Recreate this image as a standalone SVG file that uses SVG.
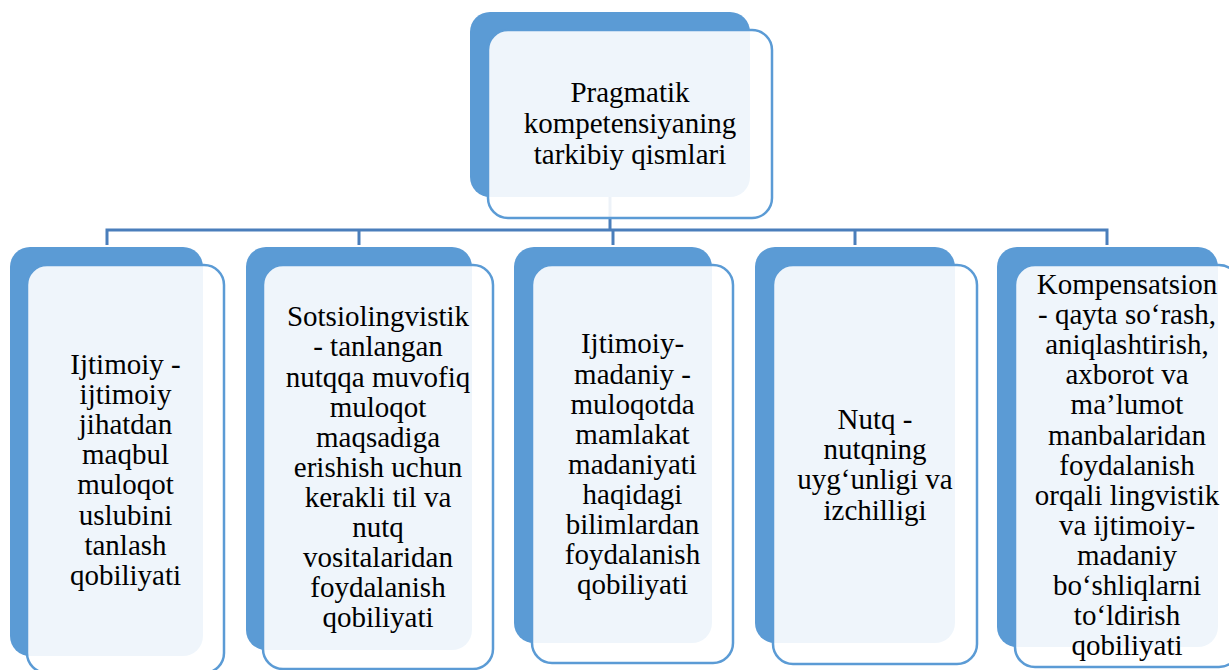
<svg xmlns="http://www.w3.org/2000/svg" width="1229" height="670" viewBox="0 0 1229 670">
<style>
.back{fill:#5B9BD5;}
.front{fill:#FFFFFF;fill-opacity:0.9;stroke:#5B9BD5;stroke-width:2.5;}
.lbl{font-family:"Liberation Serif","Times New Roman",serif;font-size:29px;fill:#000000;text-anchor:middle;}
.conn{fill:none;stroke:#4A7EBB;stroke-width:3;}
</style>
<rect width="1229" height="670" fill="#FFFFFF"/>
<g id="connectors">
<path class="conn" d="M610,197 V230"/>
<path class="conn" d="M107,245 V230 H1107 V245"/>
<path class="conn" d="M359,230 V245"/>
<path class="conn" d="M613,230 V245"/>
<path class="conn" d="M855,230 V245"/>
</g>
<g id="node-top">
<rect class="back" x="470" y="12" width="280" height="185" rx="20"/>
<rect class="front" x="488" y="30" width="284" height="188" rx="20"/>
<text class="lbl" y="101.5"><tspan x="630">Pragmatik</tspan><tspan x="630" dy="31">kompetensiyaning</tspan><tspan x="630" dy="31">tarkibiy qismlari</tspan></text>
</g>
<g id="node-1">
<rect class="back" x="10" y="247" width="193" height="409" rx="20"/>
<rect class="front" x="27" y="265" width="197" height="408" rx="20"/>
<text class="lbl" y="374"><tspan x="125.5">Ijtimoiy -</tspan><tspan x="125.5" dy="30.1">ijtimoiy</tspan><tspan x="125.5" dy="30.1">jihatdan</tspan><tspan x="125.5" dy="30.1">maqbul</tspan><tspan x="125.5" dy="30.1">muloqot</tspan><tspan x="125.5" dy="30.1">uslubini</tspan><tspan x="125.5" dy="30.1">tanlash</tspan><tspan x="125.5" dy="30.1">qobiliyati</tspan></text>
</g>
<g id="node-2">
<rect class="back" x="246" y="247" width="226" height="403" rx="20"/>
<rect class="front" x="263" y="265" width="230" height="404" rx="20"/>
<text class="lbl" y="326.3"><tspan x="378">Sotsiolingvistik</tspan><tspan x="378" dy="30.1">- tanlangan</tspan><tspan x="378" dy="30.1">nutqqa muvofiq</tspan><tspan x="378" dy="30.1">muloqot</tspan><tspan x="378" dy="30.1">maqsadiga</tspan><tspan x="378" dy="30.1">erishish uchun</tspan><tspan x="378" dy="30.1">kerakli til va</tspan><tspan x="378" dy="30.1">nutq</tspan><tspan x="378" dy="30.1">vositalaridan</tspan><tspan x="378" dy="30.1">foydalanish</tspan><tspan x="378" dy="30.1">qobiliyati</tspan></text>
</g>
<g id="node-3">
<rect class="back" x="514" y="247" width="198" height="396" rx="20"/>
<rect class="front" x="532" y="265" width="201" height="398" rx="20"/>
<text class="lbl" y="353.4"><tspan x="632.5">Ijtimoiy-</tspan><tspan x="632.5" dy="30.1">madaniy -</tspan><tspan x="632.5" dy="30.1">muloqotda</tspan><tspan x="632.5" dy="30.1">mamlakat</tspan><tspan x="632.5" dy="30.1">madaniyati</tspan><tspan x="632.5" dy="30.1">haqidagi</tspan><tspan x="632.5" dy="30.1">bilimlardan</tspan><tspan x="632.5" dy="30.1">foydalanish</tspan><tspan x="632.5" dy="30.1">qobiliyati</tspan></text>
</g>
<g id="node-4">
<rect class="back" x="755" y="247" width="200" height="396" rx="20"/>
<rect class="front" x="773" y="265" width="204" height="399" rx="20"/>
<text class="lbl" y="429.2"><tspan x="875">Nutq -</tspan><tspan x="875" dy="30.1">nutqning</tspan><tspan x="875" dy="30.1">uyg‘unligi va</tspan><tspan x="875" dy="30.1">izchilligi</tspan></text>
</g>
<g id="node-5">
<rect class="back" x="997" y="247" width="221" height="400" rx="20"/>
<rect class="front" x="1015" y="265" width="224" height="402" rx="20"/>
<text class="lbl" y="294"><tspan x="1127">Kompensatsion</tspan><tspan x="1127" dy="30.1">- qayta so‘rash,</tspan><tspan x="1127" dy="30.1">aniqlashtirish,</tspan><tspan x="1127" dy="30.1">axborot va</tspan><tspan x="1127" dy="30.1">ma’lumot</tspan><tspan x="1127" dy="30.1">manbalaridan</tspan><tspan x="1127" dy="30.1">foydalanish</tspan><tspan x="1127" dy="30.1">orqali lingvistik</tspan><tspan x="1127" dy="30.1">va ijtimoiy-</tspan><tspan x="1127" dy="30.1">madaniy</tspan><tspan x="1127" dy="30.1">bo‘shliqlarni</tspan><tspan x="1127" dy="30.1">to‘ldirish</tspan><tspan x="1127" dy="30.1">qobiliyati</tspan></text>
</g>
</svg>
